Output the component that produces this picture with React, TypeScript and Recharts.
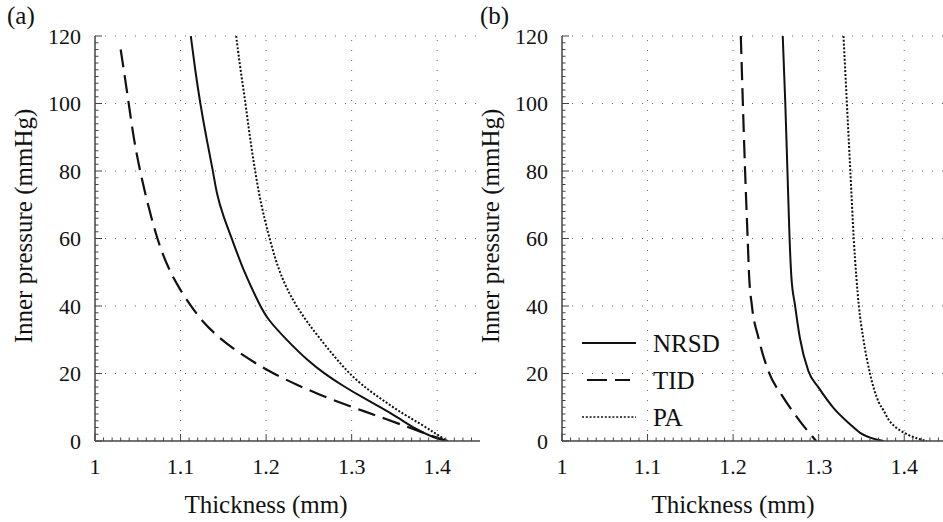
import React from 'react';
import { LineChart, Line, XAxis, YAxis, ReferenceLine, Legend, Label } from 'recharts';

const FONT = '"Liberation Serif", "Times New Roman", serif';
const INK = '#111';
const AXIS = '#444';
const GRID = '#666';

// major ticks (labelled) and minor ticks
const xTicks = [1, 1.1, 1.2, 1.3, 1.4];
const yTicks = [0, 20, 40, 60, 80, 100, 120];
const xMinor = Array.from({ length: 45 }, (_, i) => Math.round((1 + i * 0.01) * 100) / 100);
const yMinor = Array.from({ length: 61 }, (_, i) => i * 2);

// panel (a): [thickness mm, inner pressure mmHg]
const nrsdA = [
  [1.112, 120], [1.117, 110], [1.123, 100], [1.13, 90], [1.138, 80], [1.142, 73.4],
  [1.15, 66.5], [1.16, 60], [1.173, 50.7], [1.193, 40], [1.201, 36.3], [1.224, 29.9],
  [1.25, 23.5], [1.268, 20], [1.29, 16.3], [1.312, 13], [1.334, 10], [1.355, 6.8],
  [1.375, 3.5], [1.395, 1], [1.412, 0],
];
const tidA = [
  [1.03, 116], [1.036, 106], [1.04, 99], [1.045, 90], [1.051, 82], [1.058, 74],
  [1.066, 66], [1.075, 58], [1.086, 51], [1.099, 45], [1.112, 40], [1.126, 35.3],
  [1.14, 31.8], [1.155, 28.6], [1.172, 25.6], [1.191, 22.5], [1.21, 19.8],
  [1.236, 16.6], [1.262, 13.8], [1.29, 11], [1.315, 8.8], [1.34, 6.5], [1.365, 4.2],
  [1.385, 2.3], [1.4, 1], [1.412, 0],
];
const paA = [
  [1.165, 120], [1.17, 110], [1.176, 100], [1.181, 90], [1.187, 80], [1.194, 70],
  [1.204, 60], [1.215, 50], [1.234, 40], [1.262, 30.5], [1.296, 20], [1.32, 15],
  [1.34, 11.5], [1.36, 8], [1.38, 5.2], [1.398, 2.2], [1.412, 0],
];

// panel (b)
const nrsdB = [
  [1.258, 120], [1.261, 100], [1.2635, 80], [1.266, 60], [1.268, 49], [1.2725, 40],
  [1.278, 30.6], [1.288, 20.7], [1.3, 15.8], [1.317, 9.9], [1.337, 4.9],
  [1.3485, 2.4], [1.376, 0],
];
const tidB = [
  [1.209, 120], [1.2114, 100], [1.214, 80], [1.217, 60], [1.2187, 49], [1.222, 40],
  [1.2296, 30.6], [1.2413, 20.7], [1.259, 12.8], [1.278, 5.9], [1.297, 0],
];
const paB = [
  [1.329, 120], [1.333, 100], [1.337, 80], [1.341, 60], [1.347, 40], [1.352, 30.6],
  [1.36, 20], [1.37, 11.6], [1.376, 9], [1.382, 6.2], [1.3895, 4.2], [1.401, 2.3],
  [1.4146, 0.8], [1.4265, 0],
];

const seriesNames = ['NRSD', 'TID', 'PA'];
const lineStyle: Record<string, { dash?: string; width: number }> = {
  NRSD: { width: 2 },
  TID: { dash: '18 8', width: 2.2 },
  PA: { dash: '2 1.8', width: 2 },
};

const toRows = (pts: number[][]) => pts.map(([x, y]) => ({ x, y }));

const XTick = (props: any) => {
  const { x, y, payload } = props;
  const major = xTicks.includes(payload.value);
  return (
    <g>
      <line x1={x} x2={x} y1={y} y2={y - (major ? 7 : 3.5)} stroke={AXIS} strokeWidth={1} />
      {major && (
        <text x={x} y={y + 33} textAnchor="middle" fontFamily={FONT} fontSize={22} fill={INK}>
          {payload.value}
        </text>
      )}
    </g>
  );
};

const YTick = (props: any) => {
  const { x, y, payload } = props;
  const major = yTicks.includes(payload.value);
  return (
    <g>
      <line x1={x} x2={x + (major ? 7 : 3.5)} y1={y} y2={y} stroke={AXIS} strokeWidth={1} />
      {major && (
        <text
          x={x - 14}
          y={y}
          textAnchor="end"
          dominantBaseline="central"
          fontFamily={FONT}
          fontSize={22}
          fill={INK}
        >
          {payload.value}
        </text>
      )}
    </g>
  );
};

const LegendBox = () => (
  <svg width={170} height={115}>
    {seriesNames.map((name, i) => {
      const s = lineStyle[name];
      const cy = 18 + i * 37;
      return (
        <g key={name}>
          <line
            x1={name === 'TID' ? 5 : 0}
            x2={name === 'TID' ? 48 : 54}
            y1={cy}
            y2={cy}
            stroke={INK}
            strokeWidth={name === 'PA' ? 1.6 : s.width}
            strokeDasharray={name === 'TID' ? '20 8' : s.dash}
          />
          <text x={71} y={cy} dominantBaseline="central" fontFamily={FONT} fontSize={25} fill={INK}>
            {name}
          </text>
        </g>
      );
    })}
  </svg>
);

type PanelProps = {
  tag: string;
  tagX: number;
  data: number[][][];
  curve: 'basis' | 'monotoneX';
  legend?: boolean;
};

function Panel({ tag, tagX, data, curve, legend }: PanelProps) {
  return (
    <LineChart width={480} height={522} margin={{ top: 36, right: 0, bottom: 80, left: 94 }}>
      <XAxis
        type="number"
        dataKey="x"
        domain={[1, 1.45]}
        allowDataOverflow
        ticks={xMinor}
        interval={0}
        tick={<XTick />}
        tickLine={false}
        tickSize={0}
        tickMargin={0}
        height={1}
        axisLine={{ stroke: AXIS, strokeWidth: 1.5 }}
      >
        <Label
          content={() => (
            <text x={266} y={513} textAnchor="middle" fontFamily={FONT} fontSize={25} fill={INK}>
              Thickness (mm)
            </text>
          )}
        />
      </XAxis>
      <YAxis
        type="number"
        domain={[0, 120]}
        allowDataOverflow
        ticks={yMinor}
        interval={0}
        tick={<YTick />}
        tickLine={false}
        tickSize={0}
        tickMargin={0}
        width={1}
        axisLine={{ stroke: AXIS, strokeWidth: 1.5 }}
      >
        <Label
          content={() => (
            <g>
              <text x={tagX} y={24} fontFamily={FONT} fontSize={25} fill={INK}>
                {tag}
              </text>
              <text
                transform="translate(32,226) rotate(-90)"
                textAnchor="middle"
                fontFamily={FONT}
                fontSize={25}
                fill={INK}
              >
                Inner pressure (mmHg)
              </text>
            </g>
          )}
        />
      </YAxis>
      {xTicks.slice(1).map((v) => (
        <ReferenceLine key={'gx' + v} x={v} stroke={GRID} strokeDasharray="1 9" />
      ))}
      {yTicks.slice(1).map((v) => (
        <ReferenceLine key={'gy' + v} y={v} stroke={GRID} strokeDasharray="1 9" />
      ))}
      {seriesNames.map((name, i) => (
        <Line
          key={name}
          name={name}
          data={toRows(data[i])}
          dataKey="y"
          type={curve}
          stroke={INK}
          strokeWidth={lineStyle[name].width}
          strokeDasharray={lineStyle[name].dash}
          dot={false}
          activeDot={false}
          isAnimationActive={false}
        />
      ))}
      {legend && (
        <Legend
          layout="horizontal"
          verticalAlign="middle"
          align="center"
          wrapperStyle={{ left: 115, top: 325, width: 170, height: 115 }}
          content={() => <LegendBox />}
        />
      )}
    </LineChart>
  );
}

export default function App() {
  return (
    <div
      style={{
        position: 'absolute',
        left: 0,
        top: 0,
        width: 943,
        height: 522,
        overflow: 'hidden',
        background: '#fff',
      }}
    >
      <div style={{ position: 'absolute', left: 0, top: 0 }}>
        <Panel tag="(a)" tagX={7} data={[nrsdA, tidA, paA]} curve="basis" />
      </div>
      <div style={{ position: 'absolute', left: 467, top: 0 }}>
        <Panel tag="(b)" tagX={13} data={[nrsdB, tidB, paB]} curve="monotoneX" legend />
      </div>
    </div>
  );
}
